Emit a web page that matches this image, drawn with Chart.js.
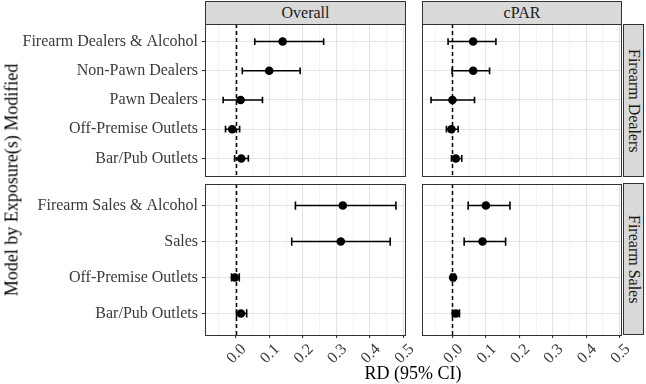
<!DOCTYPE html>
<html>
<head>
<meta charset="utf-8">
<script src="https://cdn.jsdelivr.net/npm/chart.js@4/dist/chart.umd.min.js"></script>
<style>
  html, body { margin: 0; padding: 0; background: #fff; }
  #wrap { position: relative; width: 646px; height: 384px; font-family: "Liberation Serif", "Times New Roman", serif; }
  #wrap canvas { position: absolute; left: 0; top: 0; }
  .strip { position: absolute; box-sizing: border-box; background: #d9d9d9; border: 1px solid #333; color: #1a1a1a;
           font-size: 16px; display: flex; align-items: center; justify-content: center; white-space: nowrap; }
  .vtxt { writing-mode: vertical-rl; }
  .axt { position: absolute; color: #000; font-size: 18px; white-space: nowrap; }
</style>
</head>
<body>
<div id="wrap">
  <canvas id="dOverall" width="646" height="384"></canvas>
  <canvas id="dCpar" width="646" height="384"></canvas>
  <canvas id="sOverall" width="646" height="384"></canvas>
  <canvas id="sCpar" width="646" height="384"></canvas>

  <div class="strip" style="left:205px;top:1px;width:201px;height:24px;">Overall</div>
  <div class="strip" style="left:422px;top:1px;width:200px;height:24px;">cPAR</div>
  <div class="strip vtxt" style="left:623px;top:24px;width:21px;height:153px;">Firearm Dealers</div>
  <div class="strip vtxt" style="left:623px;top:183px;width:21px;height:152px;">Firearm Sales</div>

  <div class="axt" style="left:413px;top:373px;transform:translate(-50%,-50%);">RD (95% CI)</div>
  <div class="axt" style="left:12px;top:180px;transform:translate(-50%,-50%) rotate(-90deg);">Model by Exposure(s) Modified</div>
</div>

<script>
// ── rows ──
const dealerRows = ['Firearm Dealers & Alcohol', 'Non-Pawn Dealers', 'Pawn Dealers', 'Off-Premise Outlets', 'Bar/Pub Outlets'];
const salesRows = ['Firearm Sales & Alcohol', 'Sales', 'Off-Premise Outlets', 'Bar/Pub Outlets'];

// ── estimates + 95% CI ──
const dealerOverallEst = [0.140, 0.100, 0.015, -0.010, 0.017];
const dealerOverallLo  = [0.057, 0.020, -0.037, -0.030, -0.003];
const dealerOverallHi  = [0.262, 0.192, 0.080, 0.012, 0.038];

const dealerCparEst = [0.062, 0.062, 0.000, -0.003, 0.010];
const dealerCparLo  = [-0.013, -0.001, -0.064, -0.018, -0.003];
const dealerCparHi  = [0.130, 0.111, 0.066, 0.017, 0.028];

const salesOverallEst = [0.319, 0.313, -0.002, 0.016];
const salesOverallLo  = [0.178, 0.167, -0.012, 0.003];
const salesOverallHi  = [0.477, 0.460, 0.011, 0.033];

const salesCparEst = [0.100, 0.090, 0.002, 0.010];
const salesCparLo  = [0.047, 0.035, -0.003, 0.000];
const salesCparHi  = [0.172, 0.159, 0.007, 0.021];

// ── x axis ──
const xMin = -0.091, xMax = 0.504;
const xMajor = [0, 0.1, 0.2, 0.3, 0.4, 0.5];
const xMajorLabels = ['0.0', '0.1', '0.2', '0.3', '0.4', '0.5'];
const xMinor = [-0.05, 0.05, 0.15, 0.25, 0.35, 0.45];

const FONT = '"Liberation Serif", "Times New Roman", serif';
const isMajor = v => xMajor.some(m => Math.abs(m - v) < 1e-9);

const errorBars = {
  id: 'errorBars',
  beforeDatasetsDraw(chart) {
    const { ctx, chartArea: a, scales: { x, y } } = chart;
    ctx.save();
    // dashed zero line
    const x0 = Math.round(x.getPixelForValue(0)) + 0.5;
    ctx.beginPath();
    ctx.setLineDash([4, 3]);
    ctx.lineWidth = 1.5;
    ctx.strokeStyle = '#000';
    ctx.moveTo(x0, a.top); ctx.lineTo(x0, a.bottom);
    ctx.stroke();
    ctx.setLineDash([]);
    // CI bars with caps
    const ds = chart.data.datasets[0];
    ctx.lineWidth = 1.6;
    ds.lo.forEach((lo, i) => {
      const yc = y.getPixelForValue(i + 1);
      const cap = Math.abs(y.getPixelForValue(i + 1.115) - yc);
      const xl = x.getPixelForValue(lo), xh = x.getPixelForValue(ds.hi[i]);
      ctx.beginPath();
      ctx.moveTo(xl, yc); ctx.lineTo(xh, yc);
      ctx.moveTo(xl, yc - cap); ctx.lineTo(xl, yc + cap);
      ctx.moveTo(xh, yc - cap); ctx.lineTo(xh, yc + cap);
      ctx.stroke();
    });
    ctx.restore();
  },
  afterDraw(chart) {
    const { ctx, chartArea: a } = chart;
    ctx.save();
    ctx.strokeStyle = '#333';
    ctx.lineWidth = 1;
    ctx.strokeRect(Math.round(a.left) + 0.5, Math.round(a.top) + 0.5,
                   Math.round(a.right - a.left), Math.round(a.bottom - a.top));
    ctx.restore();
  }
};

function makePanel(id, rows, est, lo, hi, box, showY, showX) {
  new Chart(document.getElementById(id), {
    type: 'scatter',
    data: {
      datasets: [{
        data: est.map((v, i) => ({ x: v, y: i + 1 })),
        lo, hi,
        pointRadius: 4.3, pointHoverRadius: 4.3,
        pointBackgroundColor: '#000', pointBorderColor: '#000', pointBorderWidth: 0
      }]
    },
    options: {
      responsive: false, animation: false, events: [],
      layout: { padding: { left: showY ? 0 : box.left, top: box.top, right: 646 - box.right, bottom: 0 } },
      plugins: { legend: { display: false }, tooltip: { enabled: false } },
      scales: {
        x: {
          type: 'linear', min: xMin, max: xMax,
          afterBuildTicks: s => { s.ticks = [...xMinor, ...xMajor].sort((a, b) => a - b).map(v => ({ value: v })); },
          afterFit: s => { s.height = 384 - box.bottom; },
          ticks: {
            display: showX, autoSkip: false, minRotation: 45, maxRotation: 45,
            padding: 2, labelOffset: 8,
            font: { family: FONT, size: 16 }, color: '#3a3a3a',
            callback: v => { const k = xMajor.findIndex(m => Math.abs(m - v) < 1e-9); return k < 0 ? '' : xMajorLabels[k]; }
          },
          grid: {
            color: c => (c.tick && isMajor(c.tick.value)) ? '#e3e3e3' : '#eeeeee',
            lineWidth: c => (c.tick && isMajor(c.tick.value)) ? 1.1 : 0.7,
            drawTicks: showX, tickLength: 3,
            tickColor: c => (c.tick && isMajor(c.tick.value)) ? '#333' : 'rgba(0,0,0,0)'
          },
          border: { display: false }
        },
        y: {
          type: 'linear', reverse: true, min: 0.4, max: rows.length + 0.6,
          afterBuildTicks: s => { s.ticks = rows.map((r, i) => ({ value: i + 1 })); },
          afterFit: s => { s.width = showY ? box.left : 0; },
          ticks: {
            display: showY, padding: 4,
            font: { family: FONT, size: 16 }, color: '#3a3a3a',
            callback: v => rows[v - 1]
          },
          grid: { color: '#e3e3e3', lineWidth: 1.1, drawTicks: showY, tickLength: 3, tickColor: '#333' },
          border: { display: false }
        }
      }
    },
    plugins: [errorBars]
  });
}

const topBox = { top: 24, bottom: 176 };
const botBox = { top: 184, bottom: 335 };
const leftCol = { left: 205, right: 405 };
const rightCol = { left: 422, right: 621 };

makePanel('dOverall', dealerRows, dealerOverallEst, dealerOverallLo, dealerOverallHi, { ...leftCol, ...topBox }, true, false);
makePanel('dCpar', dealerRows, dealerCparEst, dealerCparLo, dealerCparHi, { ...rightCol, ...topBox }, false, false);
makePanel('sOverall', salesRows, salesOverallEst, salesOverallLo, salesOverallHi, { ...leftCol, ...botBox }, true, true);
makePanel('sCpar', salesRows, salesCparEst, salesCparLo, salesCparHi, { ...rightCol, ...botBox }, false, true);
</script>
</body>
</html>
